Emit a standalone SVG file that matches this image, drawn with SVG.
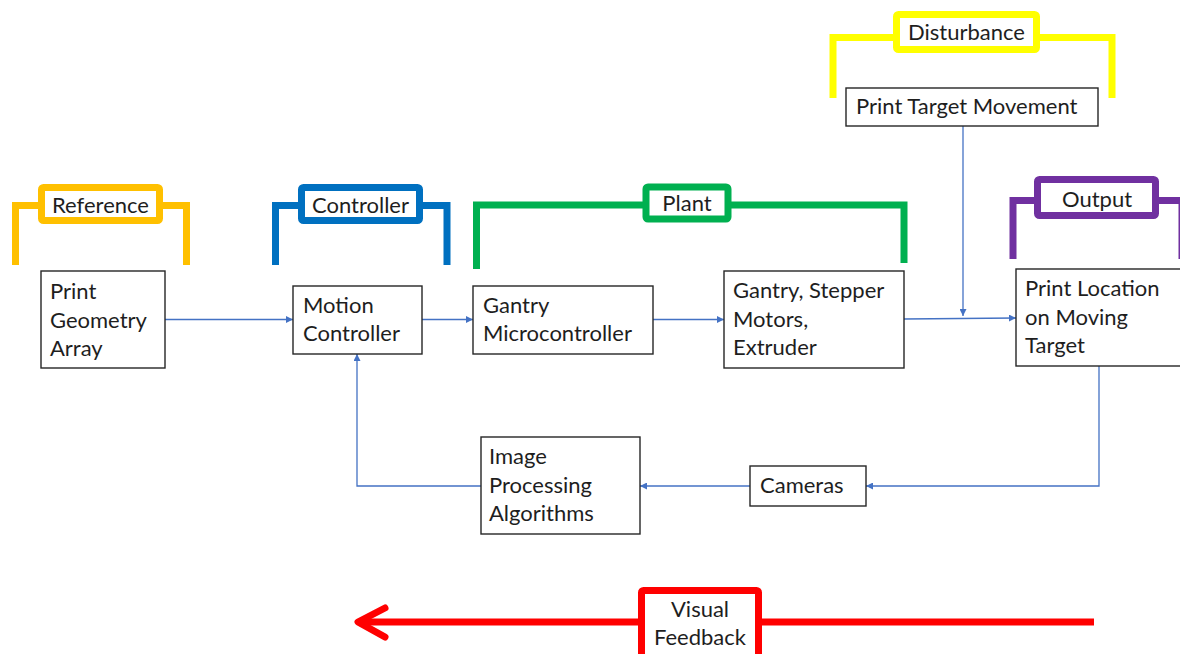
<svg xmlns="http://www.w3.org/2000/svg" width="1180" height="654" viewBox="0 0 1180 654">
<defs>
<style>
.box{fill:#fff;stroke:#262626;stroke-width:1.4}
.t{font-family:Lato,"Liberation Sans",sans-serif;font-size:22px;fill:#1e1e1e}
.lbl{font-family:Lato,"Liberation Sans",sans-serif;font-size:22px;fill:#1e1e1e;text-anchor:middle}
.br{fill:none;stroke-width:7;stroke-linejoin:miter}
.lb{fill:#fff;stroke-width:7}
.c{fill:none;stroke:#4472C4;stroke-width:1.3}
</style>
<marker id="ah" viewBox="0 0 10 10" refX="10" refY="5" markerWidth="7" markerHeight="7" markerUnits="userSpaceOnUse" orient="auto">
<path d="M0 0 L10 5 L0 10 z" fill="#4472C4"/>
</marker>
</defs>
<rect width="1180" height="654" fill="#fff"/>

<g id="bracket-reference">
<path class="br" stroke="#FFC000" d="M15.5 265 V205.5 H42 M159 205.5 H186.5 V265"/>
<rect class="lb" stroke="#FFC000" x="41.5" y="187.5" width="118" height="33" rx="2"/>
<text class="lbl" x="100.5" y="213">Reference</text>
</g>
<g id="bracket-controller">
<path class="br" stroke="#0070C0" d="M275.5 265 V205.5 H302 M419 205.5 H447 V265"/>
<rect class="lb" stroke="#0070C0" x="301.5" y="187.5" width="118" height="33" rx="2"/>
<text class="lbl" x="360.5" y="213">Controller</text>
</g>
<g id="bracket-plant">
<path class="br" stroke="#00B050" stroke-width="8" d="M476.5 269 V205 H646 M728 205 H904 V263"/>
<rect class="lb" stroke="#00B050" stroke-width="8" x="646" y="187" width="82" height="32" rx="2"/>
<text class="lbl" x="687" y="211">Plant</text>
</g>
<g id="bracket-disturbance">
<path class="br" stroke="#FFFF00" d="M833 98 V37.5 H897 M1036 37.5 H1112 V98"/>
<rect class="lb" stroke="#FFFF00" x="896.5" y="14.5" width="140" height="35" rx="2"/>
<text class="lbl" x="966.5" y="40">Disturbance</text>
</g>
<g id="bracket-output">
<path class="br" stroke="#7030A0" d="M1013 259 V200.5 H1038 M1155 200.5 H1182 V259"/>
<rect class="lb" stroke="#7030A0" x="1037.5" y="179.5" width="118" height="36" rx="2"/>
<text class="lbl" x="1097" y="207">Output</text>
</g>

<g id="connectors">
<path class="c" marker-end="url(#ah)" d="M165 319.5 H293"/>
<path class="c" marker-end="url(#ah)" d="M422 319.5 H473"/>
<path class="c" marker-end="url(#ah)" d="M653 319.5 H724"/>
<path class="c" marker-end="url(#ah)" d="M904 319 L1016 318"/>
<path class="c" marker-end="url(#ah)" d="M963 126 V316"/>
<path class="c" marker-end="url(#ah)" d="M1099 366 V486 H866"/>
<path class="c" marker-end="url(#ah)" d="M750 486 H640"/>
<path class="c" marker-end="url(#ah)" d="M481 486 H357 V354"/>
</g>

<g id="print-geometry-array">
<rect class="box" x="41" y="271" width="124" height="97"/>
<text class="t" x="50" y="299">Print</text>
<text class="t" x="50" y="327.5">Geometry</text>
<text class="t" x="50" y="356">Array</text>
</g>
<g id="motion-controller">
<rect class="box" x="293" y="286" width="129" height="68"/>
<text class="t" x="303" y="313">Motion</text>
<text class="t" x="303" y="341">Controller</text>
</g>
<g id="gantry-microcontroller">
<rect class="box" x="473" y="286" width="180" height="68"/>
<text class="t" x="483" y="313">Gantry</text>
<text class="t" x="483" y="341">Microcontroller</text>
</g>
<g id="gantry-stepper">
<rect class="box" x="724" y="271" width="180" height="97"/>
<text class="t" x="733" y="298">Gantry, Stepper</text>
<text class="t" x="733" y="327">Motors,</text>
<text class="t" x="733" y="355">Extruder</text>
</g>
<g id="print-target-movement">
<rect class="box" x="846" y="88" width="252" height="38"/>
<text class="t" x="856" y="114">Print Target Movement</text>
</g>
<g id="print-location">
<rect class="box" x="1016" y="269" width="170" height="97"/>
<text class="t" x="1025" y="296">Print Location</text>
<text class="t" x="1025" y="325">on Moving</text>
<text class="t" x="1025" y="353">Target</text>
</g>
<g id="cameras">
<rect class="box" x="750" y="466" width="116" height="40"/>
<text class="t" x="760" y="493">Cameras</text>
</g>
<g id="image-processing">
<rect class="box" x="481" y="437" width="159" height="97"/>
<text class="t" x="489" y="464">Image</text>
<text class="t" x="489" y="493">Processing</text>
<text class="t" x="489" y="521">Algorithms</text>
</g>

<g id="visual-feedback">
<path fill="none" stroke="#FF0000" stroke-width="7" d="M1094 622 H362"/>
<polyline fill="none" stroke="#FF0000" stroke-width="7" stroke-linecap="round" stroke-linejoin="round" points="385,608 358,622 385,637"/>
<rect class="lb" stroke="#FF0000" x="641.5" y="590.5" width="117" height="80" rx="2"/>
<text class="lbl" x="700" y="617">Visual</text>
<text class="lbl" x="700" y="645">Feedback</text>
</g>
</svg>
